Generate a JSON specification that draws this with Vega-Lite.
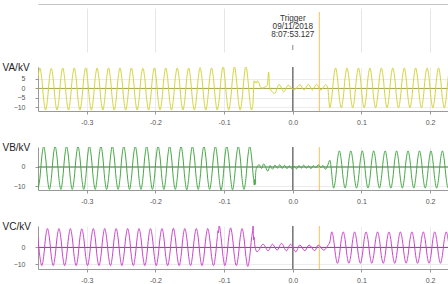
{
"$schema": "https://vega.github.io/schema/vega-lite/v6.json",
"padding": {"left": 2, "top": 4, "right": 0, "bottom": 0},
"background": "white",
"bounds": "flush",
"spacing": 15,
"resolve": {"scale": {"x": "independent", "y": "independent"}},
"config": {
  "view": {"stroke": null},
  "font": "Liberation Sans",
  "axis": {"labelFont": "Liberation Sans", "titleFont": "Liberation Sans", "labelFontSize": 7, "labelColor": "#555", "domainColor": "#999", "tickColor": "#999", "gridColor": "#ececec", "tickSize": 3, "labelOverlap": false}
},
"datasets": {
  "cursor": [{"t": 0.0386}],
  "zero": [{"t": 0, "v": 0}],
  "label": [{"t": 0, "label": "Trigger|09/11/2018|8:07:53.127"}],
  "wave": [
{"t":-0.3711,"a":5.3,"b":-11.8,"c":5.7},{"t":-0.3683,"a":10.8,"b":-6.1,"c":-5.3},{"t":-0.3655,"a":5.3,"b":5.2,"c":-10.8},{"t":-0.3627,"a":-5.9,"b":10.9,"c":-5.3},{"t":-0.3600,"a":-11.4,"b":5.2,"c":5.7},{"t":-0.3572,"a":-5.9,"b":-6.1,"c":11.2},
{"t":-0.3544,"a":5.3,"b":-11.8,"c":5.7},{"t":-0.3516,"a":10.6,"b":-6.1,"c":-5.3},{"t":-0.3489,"a":5.3,"b":5.2,"c":-10.8},{"t":-0.3461,"a":-5.9,"b":10.9,"c":-5.3},{"t":-0.3433,"a":-11.4,"b":5.2,"c":5.7},{"t":-0.3405,"a":-5.9,"b":-6.1,"c":11.2},
{"t":-0.3377,"a":5.3,"b":-11.8,"c":5.7},{"t":-0.3350,"a":10.8,"b":-6.1,"c":-5.3},{"t":-0.3322,"a":5.3,"b":5.2,"c":-10.8},{"t":-0.3294,"a":-5.9,"b":10.9,"c":-5.3},{"t":-0.3266,"a":-11.4,"b":5.2,"c":5.7},{"t":-0.3239,"a":-5.9,"b":-6.1,"c":11.2},
{"t":-0.3211,"a":5.3,"b":-11.8,"c":5.7},{"t":-0.3183,"a":10.8,"b":-6.1,"c":-5.3},{"t":-0.3155,"a":5.3,"b":5.2,"c":-10.8},{"t":-0.3127,"a":-5.9,"b":10.9,"c":-5.3},{"t":-0.3100,"a":-11.4,"b":5.2,"c":5.7},{"t":-0.3072,"a":-5.9,"b":-6.1,"c":11.0},
{"t":-0.3044,"a":5.3,"b":-11.8,"c":5.7},{"t":-0.3016,"a":10.9,"b":-6.1,"c":-5.3},{"t":-0.2989,"a":5.3,"b":5.2,"c":-10.8},{"t":-0.2961,"a":-5.9,"b":10.9,"c":-5.3},{"t":-0.2933,"a":-11.4,"b":5.2,"c":5.7},{"t":-0.2905,"a":-5.9,"b":-6.1,"c":11.2},
{"t":-0.2877,"a":5.3,"b":-11.8,"c":5.7},{"t":-0.2850,"a":10.8,"b":-6.1,"c":-5.3},{"t":-0.2822,"a":5.3,"b":5.2,"c":-10.8},{"t":-0.2794,"a":-5.9,"b":10.9,"c":-5.3},{"t":-0.2766,"a":-11.4,"b":5.2,"c":5.7},{"t":-0.2739,"a":-5.9,"b":-6.1,"c":11.2},
{"t":-0.2711,"a":5.3,"b":-11.8,"c":5.7},{"t":-0.2683,"a":10.8,"b":-6.1,"c":-5.3},{"t":-0.2655,"a":5.3,"b":5.2,"c":-10.8},{"t":-0.2627,"a":-5.9,"b":11.0,"c":-5.3},{"t":-0.2600,"a":-11.4,"b":5.2,"c":5.7},{"t":-0.2572,"a":-5.9,"b":-6.1,"c":11.2},
{"t":-0.2544,"a":5.3,"b":-11.8,"c":5.7},{"t":-0.2516,"a":10.8,"b":-6.1,"c":-5.3},{"t":-0.2489,"a":5.3,"b":5.2,"c":-10.8},{"t":-0.2461,"a":-5.9,"b":10.9,"c":-5.3},{"t":-0.2433,"a":-11.4,"b":5.2,"c":5.7},{"t":-0.2405,"a":-5.9,"b":-6.1,"c":11.2},
{"t":-0.2377,"a":5.3,"b":-11.8,"c":5.7},{"t":-0.2350,"a":10.8,"b":-6.1,"c":-5.3},{"t":-0.2322,"a":5.3,"b":5.2,"c":-10.8},{"t":-0.2294,"a":-5.9,"b":10.9,"c":-5.3},{"t":-0.2266,"a":-11.4,"b":5.2,"c":5.7},{"t":-0.2239,"a":-5.9,"b":-6.1,"c":11.2},
{"t":-0.2211,"a":5.3,"b":-11.8,"c":5.7},{"t":-0.2183,"a":10.6,"b":-6.1,"c":-5.3},{"t":-0.2155,"a":5.3,"b":5.2,"c":-10.8},{"t":-0.2127,"a":-5.9,"b":10.9,"c":-5.3},{"t":-0.2100,"a":-11.4,"b":5.2,"c":5.7},{"t":-0.2072,"a":-5.9,"b":-6.1,"c":11.2},
{"t":-0.2044,"a":5.3,"b":-11.8,"c":5.7},{"t":-0.2016,"a":10.8,"b":-6.1,"c":-5.3},{"t":-0.1989,"a":5.3,"b":5.2,"c":-10.8},{"t":-0.1961,"a":-5.9,"b":10.9,"c":-5.3},{"t":-0.1933,"a":-11.4,"b":5.2,"c":5.7},{"t":-0.1905,"a":-5.9,"b":-6.1,"c":11.2},
{"t":-0.1877,"a":5.3,"b":-11.8,"c":5.7},{"t":-0.1850,"a":10.8,"b":-6.1,"c":-5.3},{"t":-0.1822,"a":5.3,"b":5.2,"c":-10.8},{"t":-0.1794,"a":-5.9,"b":10.9,"c":-5.3},{"t":-0.1766,"a":-11.4,"b":5.2,"c":5.7},{"t":-0.1739,"a":-5.9,"b":-6.1,"c":11.4},
{"t":-0.1711,"a":5.3,"b":-11.8,"c":5.7},{"t":-0.1683,"a":10.8,"b":-6.1,"c":-5.3},{"t":-0.1655,"a":5.3,"b":5.2,"c":-10.8},{"t":-0.1627,"a":-5.9,"b":10.9,"c":-5.3},{"t":-0.1600,"a":-11.4,"b":5.2,"c":5.7},{"t":-0.1572,"a":-5.9,"b":-6.1,"c":11.2},
{"t":-0.1544,"a":5.3,"b":-12.0,"c":5.7},{"t":-0.1516,"a":10.8,"b":-6.1,"c":-5.3},{"t":-0.1489,"a":5.3,"b":5.2,"c":-10.8},{"t":-0.1461,"a":-5.9,"b":10.9,"c":-5.3},{"t":-0.1433,"a":-11.4,"b":5.2,"c":5.7},{"t":-0.1405,"a":-5.9,"b":-6.1,"c":11.2},
{"t":-0.1377,"a":5.3,"b":-11.8,"c":5.7},{"t":-0.1350,"a":11.0,"b":-6.1,"c":-5.3},{"t":-0.1322,"a":5.3,"b":5.2,"c":-10.8},{"t":-0.1294,"a":-5.9,"b":10.9,"c":-5.3},{"t":-0.1266,"a":-11.4,"b":5.2,"c":5.7},{"t":-0.1239,"a":-5.9,"b":-6.1,"c":11.2},
{"t":-0.1211,"a":5.3,"b":-11.8,"c":5.7},{"t":-0.1183,"a":10.8,"b":-6.1,"c":-5.3},{"t":-0.1155,"a":5.3,"b":5.2,"c":-10.8},{"t":-0.1127,"a":-5.9,"b":10.9,"c":-5.3},{"t":-0.1100,"a":-11.4,"b":5.2,"c":5.7},{"t":-0.1088,"c":10.0},{"t":-0.1083,"c":8.6},{"t":-0.1072,"a":-5.9,"b":-6.1,"c":13.0},
{"t":-0.1044,"a":5.3,"b":-12.2,"c":5.7},{"t":-0.1016,"a":11.6,"b":-6.1,"c":-5.3},{"t":-0.0989,"a":5.3,"b":5.2,"c":-10.8},{"t":-0.0961,"a":-5.9,"b":10.9,"c":-5.3},{"t":-0.0933,"a":-11.4,"b":5.2,"c":5.7},{"t":-0.0905,"a":-5.9,"b":-6.1,"c":11.6},
{"t":-0.0877,"a":5.3,"b":-12.0,"c":5.7},{"t":-0.0850,"a":11.8,"b":-6.1,"c":-5.3},{"t":-0.0822,"a":5.3,"b":5.2,"c":-10.8},{"t":-0.0794,"a":-5.9,"b":10.9,"c":-5.3},{"t":-0.0766,"a":-11.4,"b":5.2,"c":5.7},{"t":-0.0739,"a":-5.9,"b":-6.1,"c":11.2},
{"t":-0.0711,"a":5.3,"b":-11.8,"c":5.7},{"t":-0.0683,"a":11.8,"b":-6.1,"c":-5.3},{"t":-0.0655,"a":5.3,"b":5.2,"c":-11.3},{"t":-0.0627,"a":-5.9,"b":10.9,"c":-5.3},{"t":-0.0600,"a":-11.4,"b":5.2,"c":5.7},{"t":-0.0572,"b":-6.1},
{"t":-0.0580,"a":-8.0},{"t":-0.0563,"a":4.0},{"t":-0.0551,"a":3.0},{"t":-0.0539,"a":3.6},{"t":-0.0527,"a":2.8},{"t":-0.0514,"a":4.0},{"t":-0.0495,"a":3.2},{"t":-0.0470,"a":0.6},{"t":-0.0440,"a":0.2},{"t":-0.0400,"a":0.9},{"t":-0.0370,"a":1.6},{"t":-0.0352,"a":8.7},{"t":-0.0338,"a":1.0},{"t":-0.0300,"a":-1.8},{"t":-0.0262,"a":-2.6},{"t":-0.0199,"a":2.1},{"t":-0.0131,"a":-1.8},{"t":-0.0068,"a":1.7},{"t":0.0020,"a":-0.8},{"t":0.0105,"a":2.0},{"t":0.0165,"a":-0.9},{"t":0.0227,"a":2.2},{"t":0.0286,"a":-0.9},{"t":0.0345,"a":2.2},{"t":0.0410,"a":-0.9},{"t":0.0480,"a":2.0},{"t":0.0510,"a":0.0},
{"t":-0.0560,"b":-9.5},{"t":-0.0553,"b":-6.5},{"t":-0.0548,"b":-9.2},{"t":-0.0540,"b":-3.0},{"t":-0.0528,"b":-0.5},{"t":-0.0490,"b":1.2},{"t":-0.0455,"b":-0.8},{"t":-0.0425,"b":1.6},{"t":-0.0362,"b":-2.2},{"t":-0.0330,"b":0.8},{"t":-0.0295,"b":-1.2},{"t":-0.0260,"b":1.0},{"t":-0.0225,"b":-0.6},{"t":-0.0190,"b":1.2},{"t":-0.0155,"b":-0.8},{"t":-0.0120,"b":0.9},{"t":-0.0085,"b":-0.9},{"t":-0.0050,"b":0.6},{"t":-0.0015,"b":-0.9},{"t":0.0020,"b":0.4},{"t":0.0055,"b":-1.0},{"t":0.0090,"b":0.8},{"t":0.0125,"b":-0.6},{"t":0.0160,"b":1.0},{"t":0.0195,"b":-0.7},{"t":0.0230,"b":0.6},{"t":0.0265,"b":-0.9},{"t":0.0300,"b":0.7},{"t":0.0335,"b":-0.4},{"t":0.0370,"b":1.2},{"t":0.0405,"b":-0.3},{"t":0.0440,"b":0.8},{"t":0.0475,"b":-1.2},{"t":0.0505,"b":0.5},{"t":0.0540,"b":3.5},
{"t":-0.0582,"c":11.0},{"t":-0.0578,"c":13.2},{"t":-0.0574,"c":9.0},{"t":-0.0569,"c":4.5},{"t":-0.0564,"c":6.2},{"t":-0.0558,"c":3.0},{"t":-0.0545,"c":-0.5},{"t":-0.0519,"c":-2.6},{"t":-0.0432,"c":1.9},{"t":-0.0359,"c":-2.0},{"t":-0.0296,"c":1.9},{"t":-0.0228,"c":-1.6},{"t":-0.0165,"c":2.4},{"t":-0.0092,"c":-2.0},{"t":-0.0034,"c":1.9},{"t":0.0044,"c":-2.6},{"t":0.0102,"c":1.4},{"t":0.0175,"c":-2.0},{"t":0.0238,"c":1.4},{"t":0.0320,"c":-2.0},{"t":0.0369,"c":1.4},{"t":0.0451,"c":-1.6},{"t":0.0514,"c":1.4},{"t":0.0540,"c":3.3},
{"t":0.0539,"a":-10.2},{"t":0.0567,"a":-5.0,"c":9.2},{"t":0.0595,"a":5.6,"b":-11.1,"c":4.6},
{"t":0.0623,"a":10.8,"b":-6.2,"c":-4.8},{"t":0.0650,"a":5.6,"b":3.6,"c":-9.4},{"t":0.0678,"a":-5.0,"b":8.5,"c":-4.8},{"t":0.0706,"a":-10.2,"b":3.6,"c":4.6},{"t":0.0734,"a":-5.0,"b":-6.2,"c":9.2},{"t":0.0762,"a":5.6,"b":-11.1,"c":4.6},
{"t":0.0789,"a":10.8,"b":-6.2,"c":-4.8},{"t":0.0817,"a":5.6,"b":3.6,"c":-9.4},{"t":0.0845,"a":-5.0,"b":8.5,"c":-4.8},{"t":0.0873,"a":-10.2,"b":3.6,"c":4.6},{"t":0.0900,"a":-5.0,"b":-6.2,"c":9.2},{"t":0.0928,"a":5.6,"b":-11.1,"c":4.6},
{"t":0.0956,"a":10.8,"b":-6.2,"c":-4.8},{"t":0.0984,"a":5.6,"b":3.6,"c":-9.4},{"t":0.1012,"a":-5.0,"b":8.5,"c":-4.8},{"t":0.1039,"a":-10.2,"b":3.6,"c":4.6},{"t":0.1067,"a":-5.0,"b":-6.2,"c":9.2},{"t":0.1095,"a":5.6,"b":-11.1,"c":4.6},
{"t":0.1123,"a":10.8,"b":-6.2,"c":-4.8},{"t":0.1150,"a":5.6,"b":3.6,"c":-9.4},{"t":0.1178,"a":-5.0,"b":8.5,"c":-4.8},{"t":0.1206,"a":-10.2,"b":3.6,"c":4.6},{"t":0.1234,"a":-5.0,"b":-6.2,"c":9.2},{"t":0.1262,"a":5.6,"b":-11.1,"c":4.6},
{"t":0.1289,"a":10.8,"b":-6.2,"c":-4.8},{"t":0.1317,"a":5.6,"b":3.6,"c":-9.4},{"t":0.1345,"a":-5.0,"b":8.5,"c":-4.8},{"t":0.1373,"a":-10.2,"b":3.6,"c":4.6},{"t":0.1400,"a":-5.0,"b":-6.2,"c":9.2},{"t":0.1428,"a":5.6,"b":-11.1,"c":4.6},
{"t":0.1456,"a":10.8,"b":-6.2,"c":-4.8},{"t":0.1484,"a":5.6,"b":3.6,"c":-9.4},{"t":0.1512,"a":-5.0,"b":8.5,"c":-4.8},{"t":0.1539,"a":-10.2,"b":3.6,"c":4.6},{"t":0.1567,"a":-5.0,"b":-6.2,"c":9.2},{"t":0.1595,"a":5.6,"b":-11.1,"c":4.6},
{"t":0.1623,"a":10.8,"b":-6.2,"c":-4.8},{"t":0.1650,"a":5.6,"b":3.6,"c":-9.4},{"t":0.1678,"a":-5.0,"b":8.5,"c":-4.8},{"t":0.1706,"a":-10.2,"b":3.6,"c":4.6},{"t":0.1734,"a":-5.0,"b":-6.2,"c":9.2},{"t":0.1762,"a":5.6,"b":-11.1,"c":4.6},
{"t":0.1789,"a":10.8,"b":-6.2,"c":-4.8},{"t":0.1817,"a":5.6,"b":3.6,"c":-9.4},{"t":0.1845,"a":-5.0,"b":8.5,"c":-4.8},{"t":0.1873,"a":-10.2,"b":3.6,"c":4.6},{"t":0.1900,"a":-5.0,"b":-6.2,"c":9.2},{"t":0.1928,"a":5.6,"b":-11.1,"c":4.6},
{"t":0.1956,"a":10.8,"b":-6.2,"c":-4.8},{"t":0.1984,"a":5.6,"b":3.6,"c":-9.4},{"t":0.2012,"a":-5.0,"b":8.5,"c":-4.8},{"t":0.2039,"a":-10.2,"b":3.6,"c":4.6},{"t":0.2067,"a":-5.0,"b":-6.2,"c":9.2},{"t":0.2095,"a":5.6,"b":-11.1,"c":4.6},
{"t":0.2123,"a":10.8,"b":-6.2,"c":-4.8},{"t":0.2150,"a":5.6,"b":3.6,"c":-9.4},{"t":0.2178,"a":-5.0,"b":8.5,"c":-4.8},{"t":0.2206,"a":-10.2,"b":3.6,"c":4.6},{"t":0.2234,"a":-5.0,"b":-6.2,"c":9.2},{"t":0.2262,"a":5.6,"b":-11.1,"c":4.6},
{"t":0.2289,"a":10.8,"b":-6.2,"c":-4.8}
  ]
},
"vconcat": [
  {
    "width": 410, "height": 44,
    "layer": [
      {"data": {"name": "cursor"}, "mark": {"type": "rule", "color": "#f2c25c", "strokeWidth": 1, "clip": false},
       "encoding": {"x": {"field": "t", "type": "quantitative", "scale": {"domain": [-0.371, 0.226], "nice": false, "zero": false},
         "axis": {"orient": "top", "offset": 4, "labels": false, "ticks": false, "title": null, "domainColor": "#c4c4c4", "grid": true, "gridColor": "#e6e6e6", "values": [-0.3, -0.2, -0.1, 0.1, 0.2]}},
         "y": {"value": 4}, "y2": {"value": 59}}},
      {"data": {"name": "zero"}, "mark": {"type": "rule", "color": "#888", "strokeWidth": 1},
       "encoding": {"x": {"field": "t", "type": "quantitative"}, "y": {"value": 37}, "y2": {"value": 42}}},
      {"data": {"name": "label"}, "mark": {"type": "text", "fontSize": 8.2, "lineHeight": 8.2, "lineBreak": "|", "baseline": "top", "align": "center", "color": "#333"},
       "encoding": {"x": {"field": "t", "type": "quantitative"}, "y": {"value": 7}, "text": {"field": "label"}}}
    ]
  },
  {
    "bounds": "flush",
    "spacing": 36,
    "resolve": {"scale": {"x": "independent", "y": "independent"}},
    "vconcat": [
      {
        "width": 410, "height": 44,
        "layer": [
          {"data": {"name": "zero"}, "mark": {"type": "rule", "color": "#777", "strokeWidth": 1.5},
           "encoding": {"x": {"field": "t", "type": "quantitative", "scale": {"domain": [-0.371, 0.226], "nice": false, "zero": false},
             "axis": {"values": [-0.3, -0.2, -0.1, 0, 0.1, 0.2], "labelExpr": "replace(format(datum.value, '.1f'), '\u2212', '-')", "title": null, "grid": true, "labelPadding": 4, "labelOverlap": false}}}},
          {"data": {"name": "zero"}, "mark": {"type": "rule", "color": "#a3a358", "strokeWidth": 1},
           "encoding": {"y": {"field": "v", "type": "quantitative", "scale": {"domain": [-11.9, 11.3], "nice": false, "zero": false},
             "axis": {"title": "VA/kV", "titleAngle": 0, "titleAlign": "left", "titleBaseline": "middle", "titleX": -36, "titleY": 0, "titleFontSize": 10, "titleFontWeight": "normal", "titleColor": "#222", "values": [-10, -5, 0, 5], "labelPadding": 10, "grid": true, "labelOverlap": false, "labelFlush": false}}}},
          {"data": {"name": "cursor"}, "mark": {"type": "rule", "color": "#f2c25c", "strokeWidth": 1},
           "encoding": {"x": {"field": "t", "type": "quantitative"}}},
          {"data": {"name": "wave"}, "transform": [{"filter": "isValid(datum.a)"}],
           "mark": {"type": "line", "color": "#d4d43c", "strokeWidth": 1, "interpolate": "monotone", "clip": true},
           "encoding": {"x": {"field": "t", "type": "quantitative"},
             "y": {"field": "a", "type": "quantitative", "axis": {"title": "VA/kV", "titleAngle": 0, "titleAlign": "left", "titleBaseline": "middle", "titleX": -36, "titleY": 0, "titleFontSize": 10, "titleFontWeight": "normal", "titleColor": "#222", "values": [-10, -5, 0, 5], "labelPadding": 10, "grid": true, "labelOverlap": false, "labelFlush": false}}}}
        ]
      },
      {
        "width": 410, "height": 43,
        "layer": [
          {"data": {"name": "zero"}, "mark": {"type": "rule", "color": "#777", "strokeWidth": 1.5},
           "encoding": {"x": {"field": "t", "type": "quantitative", "scale": {"domain": [-0.371, 0.226], "nice": false, "zero": false},
             "axis": {"values": [-0.3, -0.2, -0.1, 0, 0.1, 0.2], "labelExpr": "replace(format(datum.value, '.1f'), '\u2212', '-')", "title": null, "grid": true, "labelPadding": 4, "labelOverlap": false}}}},
          {"data": {"name": "zero"}, "mark": {"type": "rule", "color": "#3f7a3f", "strokeWidth": 1},
           "encoding": {"y": {"field": "v", "type": "quantitative", "scale": {"domain": [-12.1, 10.5], "nice": false, "zero": false},
             "axis": {"title": "VB/kV", "titleAngle": 0, "titleAlign": "left", "titleBaseline": "middle", "titleX": -36, "titleY": 0, "titleFontSize": 10, "titleFontWeight": "normal", "titleColor": "#222", "values": [-10, 0], "labelPadding": 10, "grid": true, "labelOverlap": false, "labelFlush": false}}}},
          {"data": {"name": "cursor"}, "mark": {"type": "rule", "color": "#f2c25c", "strokeWidth": 1},
           "encoding": {"x": {"field": "t", "type": "quantitative"}}},
          {"data": {"name": "wave"}, "transform": [{"filter": "isValid(datum.b)"}],
           "mark": {"type": "line", "color": "#44a844", "strokeWidth": 1, "interpolate": "monotone", "clip": true},
           "encoding": {"x": {"field": "t", "type": "quantitative"},
             "y": {"field": "b", "type": "quantitative", "axis": {"title": "VB/kV", "titleAngle": 0, "titleAlign": "left", "titleBaseline": "middle", "titleX": -36, "titleY": 0, "titleFontSize": 10, "titleFontWeight": "normal", "titleColor": "#222", "values": [-10, 0], "labelPadding": 10, "grid": true, "labelOverlap": false, "labelFlush": false}}}}
        ]
      },
      {
        "width": 410, "height": 43,
        "layer": [
          {"data": {"name": "zero"}, "mark": {"type": "rule", "color": "#777", "strokeWidth": 1.5},
           "encoding": {"x": {"field": "t", "type": "quantitative", "scale": {"domain": [-0.371, 0.226], "nice": false, "zero": false},
             "axis": {"values": [-0.3, -0.2, -0.1, 0, 0.1, 0.2], "labelExpr": "replace(format(datum.value, '.1f'), '\u2212', '-')", "title": null, "grid": true, "labelPadding": 4, "labelOverlap": false}}}},
          {"data": {"name": "zero"}, "mark": {"type": "rule", "color": "#843f84", "strokeWidth": 1},
           "encoding": {"y": {"field": "v", "type": "quantitative", "scale": {"domain": [-12.8, 12.7], "nice": false, "zero": false},
             "axis": {"title": "VC/kV", "titleAngle": 0, "titleAlign": "left", "titleBaseline": "middle", "titleX": -36, "titleY": 0, "titleFontSize": 10, "titleFontWeight": "normal", "titleColor": "#222", "values": [-10, 0], "labelPadding": 10, "grid": true, "labelOverlap": false, "labelFlush": false}}}},
          {"data": {"name": "cursor"}, "mark": {"type": "rule", "color": "#f2c25c", "strokeWidth": 1},
           "encoding": {"x": {"field": "t", "type": "quantitative"}}},
          {"data": {"name": "wave"}, "transform": [{"filter": "isValid(datum.c)"}],
           "mark": {"type": "line", "color": "#cc44cc", "strokeWidth": 1, "interpolate": "monotone", "clip": true},
           "encoding": {"x": {"field": "t", "type": "quantitative"},
             "y": {"field": "c", "type": "quantitative", "axis": {"title": "VC/kV", "titleAngle": 0, "titleAlign": "left", "titleBaseline": "middle", "titleX": -36, "titleY": 0, "titleFontSize": 10, "titleFontWeight": "normal", "titleColor": "#222", "values": [-10, 0], "labelPadding": 10, "grid": true, "labelOverlap": false, "labelFlush": false}}}}
        ]
      }
    ]
  }
]
}
